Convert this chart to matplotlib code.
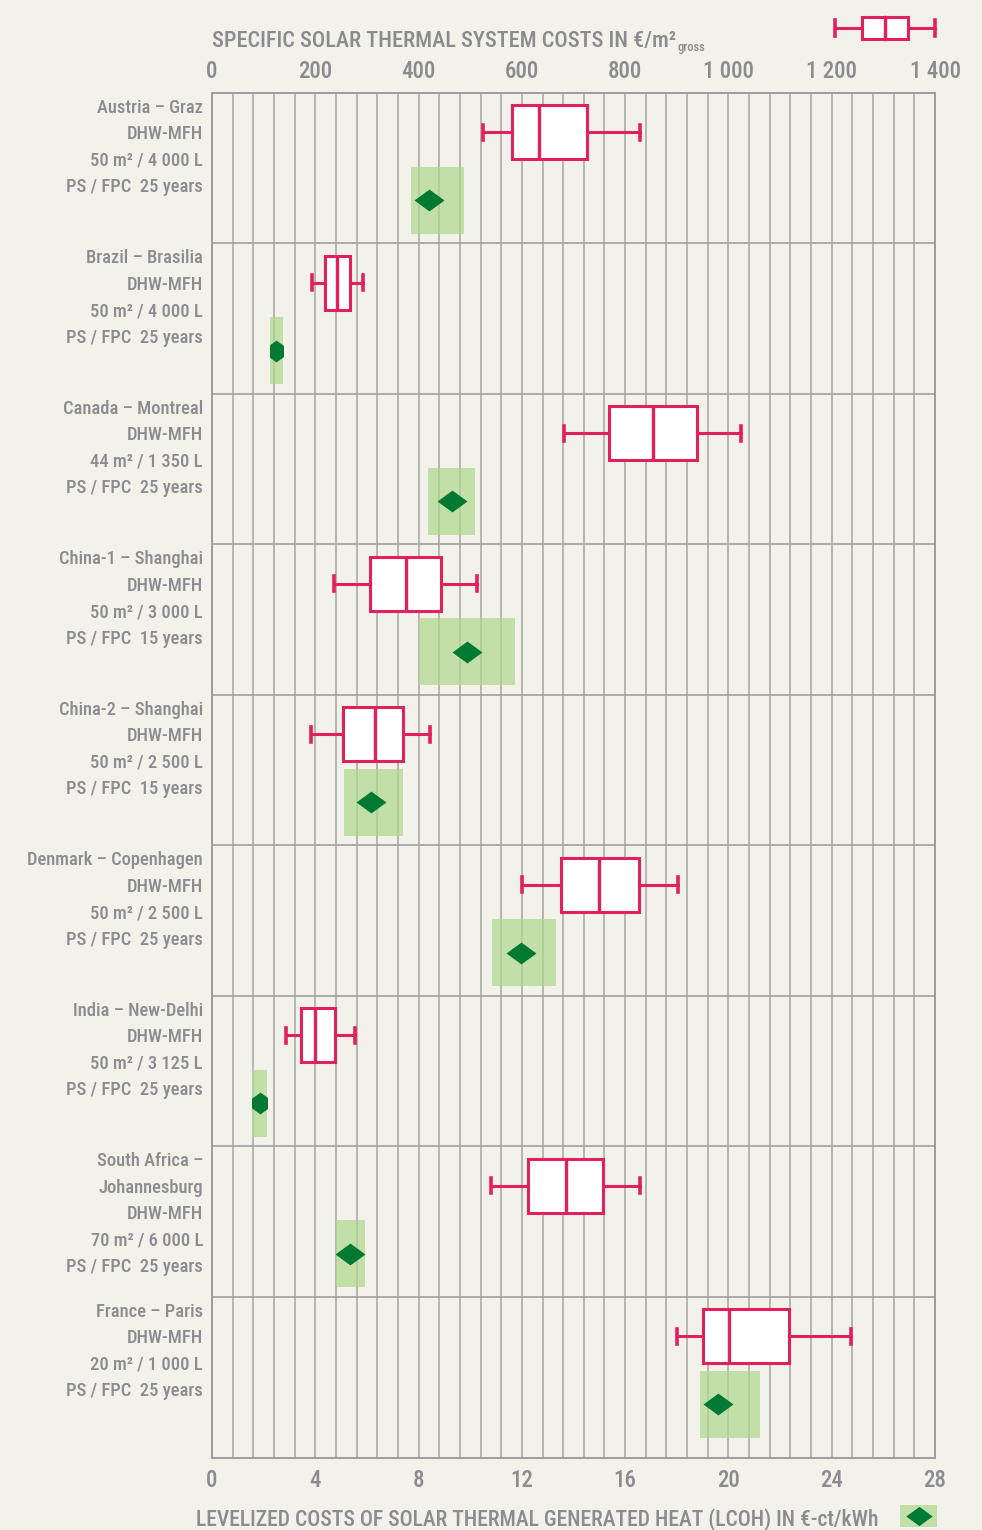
import numpy as np
import matplotlib
matplotlib.use('Agg')
import matplotlib.pyplot as plt
import matplotlib.transforms as mtransforms
from matplotlib.patches import Rectangle
from matplotlib.path import Path
from matplotlib.lines import Line2D
from matplotlib.ticker import MultipleLocator

#  ---------------------------------------------------------  #
#  data                                                       #
#  ---------------------------------------------------------  #
sites = [
    ['Austria – Graz', 'DHW-MFH', '50 m² / 4 000 L', 'PS / FPC  25 years'],
    ['Brazil – Brasilia', 'DHW-MFH', '50 m² / 4 000 L', 'PS / FPC  25 years'],
    ['Canada – Montreal', 'DHW-MFH', '44 m² / 1 350 L', 'PS / FPC  25 years'],
    ['China-1 – Shanghai', 'DHW-MFH', '50 m² / 3 000 L', 'PS / FPC  15 years'],
    ['China-2 – Shanghai', 'DHW-MFH', '50 m² / 2 500 L', 'PS / FPC  15 years'],
    ['Denmark – Copenhagen', 'DHW-MFH', '50 m² / 2 500 L', 'PS / FPC  25 years'],
    ['India – New-Delhi', 'DHW-MFH', '50 m² / 3 125 L', 'PS / FPC  25 years'],
    ['South Africa –', 'Johannesburg', 'DHW-MFH', '70 m² / 6 000 L', 'PS / FPC  25 years'],
    ['France – Paris', 'DHW-MFH', '20 m² / 1 000 L', 'PS / FPC  25 years'],
]

# specific system costs (EUR/m2 gross)
cost_whislo = [525, 194, 682, 236, 192, 600, 143, 540, 901]
cost_q1     = [581, 219, 769, 306, 254, 676, 172, 612, 951]
cost_med    = [633, 243, 853, 376, 316, 749, 200, 686, 1002]
cost_q3     = [726, 267, 939, 443, 370, 827, 238, 757, 1118]
cost_whishi = [829, 292, 1024, 513, 422, 902, 277, 829, 1237]

# LCOH (EUR-ct/kWh)
lcoh_lo  = [7.71, 2.25, 8.37, 8.03, 5.11, 10.84, 1.56, 4.80, 18.90]
lcoh_hi  = [9.75, 2.76, 10.19, 11.72, 7.40, 13.32, 2.14, 5.93, 21.22]
lcoh_mid = [8.42, 2.49, 9.29, 9.89, 6.16, 11.97, 1.85, 5.34, 19.61]

lcoh_ticks = [0, 4, 8, 12, 16, 20, 24, 28]
cost_ticks = [0, 200, 400, 600, 800, 1000, 1200, 1400]
cost_labels = ['0', '200', '400', '600', '800', '1 000', '1 200', '1 400']

#  ---------------------------------------------------------  #
#  style                                                      #
#  ---------------------------------------------------------  #
bg = '#f2f2ea'
txt = '#8b8b90'
grid_c = '#a5a5a5'
red = '#e2215c'
dk_green = '#007a33'
lt_green = '#afd78d'

plt.rcParams['font.family'] = ['Roboto Condensed', 'Liberation Sans Narrow',
                               'Liberation Sans', 'DejaVu Sans']
plt.rcParams['font.weight'] = 'medium'

W, H = 982, 1530
fig = plt.figure(figsize=(W / 100, H / 100), dpi=100, facecolor=bg)
ax = fig.add_axes([212 / W, 1 - 1458 / H, (935 - 212) / W, (1458 - 93) / H])
ax.set_facecolor(bg)

nrow = len(sites)
ax.set_xlim(0, 28)
ax.set_ylim(nrow + 0.07, 0)

# grid
ax.set_xticks(lcoh_ticks)
ax.set_xticklabels([str(t) for t in lcoh_ticks])
ax.xaxis.set_minor_locator(MultipleLocator(0.8))
ax.set_axisbelow(True)
ax.grid(which='both', axis='x', color=grid_c, lw=1.1)
ax.hlines(np.arange(1, nrow), 0, 28, color=grid_c, lw=1.3, zorder=0.6)
ax.set_yticks([])
ax.tick_params(axis='x', which='both', length=0, labelsize=16.5, labelcolor=txt, pad=8)
for sp in ax.spines.values():
    sp.set_color('#9c9c9c')
    sp.set_linewidth(1.4)

# LCOH bands + diamonds
diamond = Path([(0, -0.73), (1, 0), (0, 0.73), (-1, 0), (0, -0.73)],
               [Path.MOVETO, Path.LINETO, Path.LINETO, Path.LINETO, Path.CLOSEPOLY])
for i in range(nrow):
    rect = Rectangle((lcoh_lo[i], i + 0.49), lcoh_hi[i] - lcoh_lo[i], 0.445,
                     facecolor=lt_green, alpha=0.7, lw=0, zorder=1)
    ax.add_patch(rect)
    ln, = ax.plot([lcoh_mid[i]], [i + 0.712], ls='', marker=diamond, ms=21.6,
                  mfc=dk_green, mec=dk_green, mew=0, zorder=2)
    ln.set_clip_path(rect)

# site labels
trans = mtransforms.blended_transform_factory(ax.transAxes, ax.transData)
for i, lines in enumerate(sites):
    for k, line in enumerate(lines):
        ax.text(-0.0125, i + (15 + 26.5 * k) / 150.5, line, transform=trans,
                ha='right', va='center', fontsize=13.3, color=txt)

# cost boxes on top axis
ax2 = ax.twiny()
ax2.set_xlim(0, 1400)
ax2.set_xticks(cost_ticks)
ax2.set_xticklabels(cost_labels)
ax2.tick_params(axis='x', length=0, labelsize=16.5, labelcolor=txt, pad=7)
for sp in ax2.spines.values():
    sp.set_visible(False)

stats = []
for i in range(nrow):
    stats.append({'whislo': cost_whislo[i], 'q1': cost_q1[i], 'med': cost_med[i],
                  'q3': cost_q3[i], 'whishi': cost_whishi[i], 'fliers': []})
pos = np.arange(nrow) + 0.26
kw = dict(positions=pos, widths=0.36, capwidths=0.1, patch_artist=True,
          showfliers=False, manage_ticks=False,
          boxprops=dict(facecolor='white', edgecolor=red, linewidth=2.2),
          medianprops=dict(color=red, linewidth=2.4),
          whiskerprops=dict(color=red, linewidth=2.2),
          capprops=dict(color=red, linewidth=2.6), zorder=3)
try:
    ax2.bxp(stats, orientation='horizontal', **kw)
except TypeError:
    ax2.bxp(stats, vert=False, **kw)

# titles
t_top = fig.text(212 / W, 1 - 47 / H, 'SPECIFIC SOLAR THERMAL SYSTEM COSTS IN €/m²',
                 ha='left', va='baseline', fontsize=16, color=txt)
fig.text(196 / W, 1 - 1526 / H,
         'LEVELIZED COSTS OF SOLAR THERMAL GENERATED HEAT (LCOH) IN €-ct/kWh',
         ha='left', va='baseline', fontsize=15.6, color=txt)
fig.canvas.draw()
bb = t_top.get_window_extent()
fig.text(bb.x1 / W + 1 / W, 1 - 51 / H, 'gross', ha='left', va='baseline',
         fontsize=9, color=txt)

# legend glyph: box (top right)
def fx(px):
    return px / W

def fy(py):
    return 1 - py / H

fig.add_artist(Line2D([fx(835), fx(862)], [fy(28), fy(28)], color=red, lw=2.2))
fig.add_artist(Line2D([fx(908), fx(935)], [fy(28), fy(28)], color=red, lw=2.2))
fig.add_artist(Line2D([fx(835), fx(835)], [fy(20), fy(36)], color=red, lw=2.6))
fig.add_artist(Line2D([fx(935), fx(935)], [fy(20), fy(36)], color=red, lw=2.6))
fig.add_artist(Rectangle((fx(862), fy(39)), fx(908) - fx(862), fy(17) - fy(39),
                         transform=fig.transFigure, facecolor='white',
                         edgecolor=red, lw=2.2))
fig.add_artist(Line2D([fx(885), fx(885)], [fy(17), fy(39)], color=red, lw=2.4))

# legend glyph: LCOH (bottom right)
fig.add_artist(Rectangle((fx(900), fy(1527)), fx(937) - fx(900), fy(1505) - fy(1527),
                         transform=fig.transFigure, facecolor=lt_green, alpha=0.7, lw=0))
fig.add_artist(Line2D([fx(918.5)], [fy(1516)], ls='', marker=diamond, ms=19,
                      mfc=dk_green, mec=dk_green, mew=0))

fig.savefig('out.png', dpi=100, facecolor=bg)
